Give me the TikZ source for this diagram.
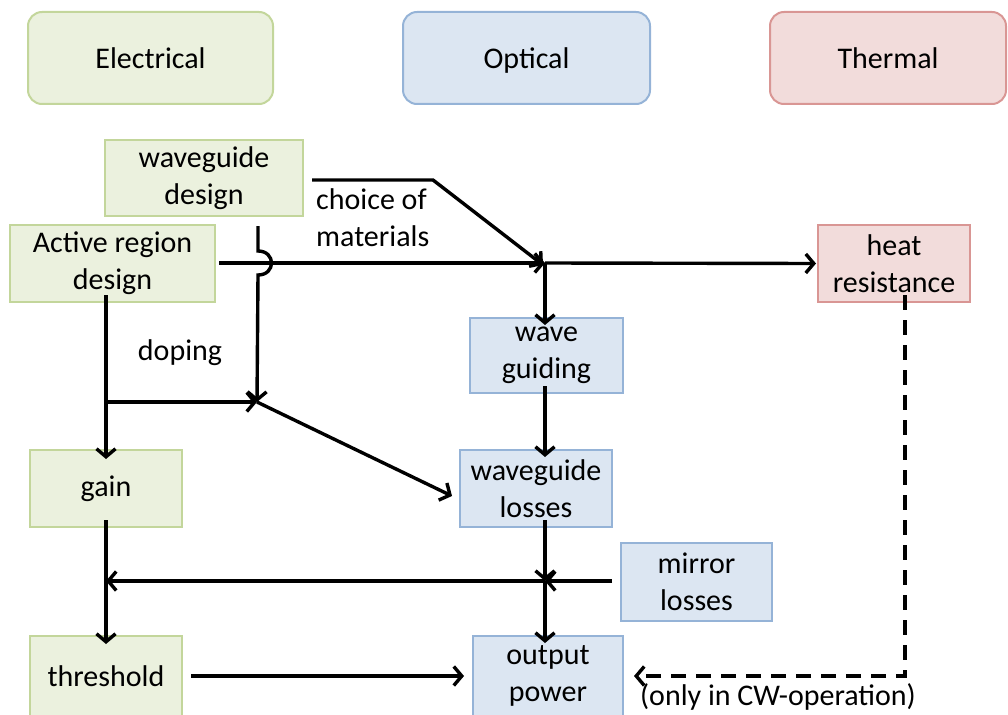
\documentclass[tikz,border=0pt]{standalone}
\usepackage{fontspec}
\setmainfont{Carlito}
\usetikzlibrary{arrows.meta}
\definecolor{gfill}{HTML}{EBF1DE}
\definecolor{gdraw}{HTML}{C3D69B}
\definecolor{bfill}{HTML}{DCE6F2}
\definecolor{bdraw}{HTML}{95B3D7}
\definecolor{rfill}{HTML}{F2DCDB}
\definecolor{rdraw}{HTML}{D99694}
\tikzset{
  box/.style={draw, line width=2pt, inner sep=0pt, align=center, font=\fontsize{30}{37}\selectfont},
  gbox/.style={box, fill=gfill, draw=gdraw},
  bbox/.style={box, fill=bfill, draw=bdraw},
  rbox/.style={box, fill=rfill, draw=rdraw},
  hdr/.style={rounded corners=14pt, text depth=0pt},
  arr/.style={line width=3.4pt, -{Straight Barb[length=8pt,width=19pt,line width=3.4pt]}},
  lbl/.style={font=\fontsize{30}{37}\selectfont, inner sep=0pt}
}
\begin{document}
\begin{tikzpicture}[x=1pt,y=-1pt]
\useasboundingbox (0,0) rectangle (1008,714);
% header boxes
\node[gbox,hdr,minimum width=245pt,minimum height=92pt] (el) at (150.5,58) {Electrical};
\node[bbox,hdr,minimum width=247pt,minimum height=92pt] (op0) at (526.5,58) {Optical};
\node[rbox,hdr,minimum width=236pt,minimum height=92pt] (th) at (888,58) {Thermal};
% diagram boxes
\node[gbox,minimum width=198pt,minimum height=76pt] (wd) at (204,178) {waveguide\\design};
\node[gbox,minimum width=205pt,minimum height=77pt] (ard) at (112.5,263.5) {Active region\\design};
\node[rbox,minimum width=152pt,minimum height=77pt] (hr) at (894,263.5) {heat\\resistance};
\node[bbox,minimum width=153pt,minimum height=75pt] (wg) at (546.5,355.5) {wave\\guiding};
\node[bbox,minimum width=152pt,minimum height=77pt] (wl) at (536,488.5) {waveguide\\losses};
\node[gbox,minimum width=152pt,minimum height=77pt] (gain) at (106,488.5) {gain};
\node[bbox,minimum width=151pt,minimum height=78pt] (ml) at (696.5,582) {mirror\\losses};
\node[bbox,minimum width=150pt,minimum height=80pt] (op) at (548,676) {output\\power};
\node[gbox,minimum width=152pt,minimum height=80pt] (thr) at (106,676) {threshold};
% labels
\node[lbl,anchor=north west,align=left] (cm) at (316,188) {choice of\\materials};
\node[lbl] (dp) at (180,353) {doping};
\node[lbl] (cw) at (778,696.5) {(only in CW-operation)};
% coordinates
\coordinate (j1) at (545,263);
\coordinate (j2) at (545,581);
\coordinate (j3) at (106,581);
\coordinate (d1) at (257,402);
\coordinate (b1) at (106,402);
\coordinate (h1) at (258,226);
\coordinate (k1) at (433,180);
\coordinate (dl) at (905,676);
% connectors
\draw[arr] ([xshift=8pt]wd.east |- k1) -- (k1) -- ([shift={(-2pt,-2pt)}]j1);
\draw[arr] ([xshift=3pt]ard.east |- j1) -- (j1);
\draw[arr] (j1) -- ([xshift=-1pt]hr.west);
\draw[arr] (j1) -- ([yshift=-8pt]j1 |- wg.north);
\draw[arr] ([yshift=8pt]j1 |- wg.south) -- ([yshift=-8pt]j1 |- wl.north);
\draw[arr] (h1) -- (258,251) .. controls (276,251) and (276,275) .. (258,275) -- (d1);
\draw[arr] ([yshift=8pt]b1 |- ard.south) -- ([yshift=-10pt]gain.north);
\draw[arr] (b1) -- (d1);
\draw[arr] (d1) -- (452,496);
\draw[arr] ([yshift=8pt]gain.south) -- ([yshift=-9pt]thr.north);
\draw[arr] ([xshift=-8pt]ml.west |- j2) -- (j2);
\draw[arr] (j2) -- (j3);
\draw[arr] ([yshift=8pt]j2 |- wl.south) -- (j2);
\draw[arr] (j2) -- ([yshift=-8pt]j2 |- op.north);
\draw[arr] ([xshift=8pt]thr.east |- dl) -- ([xshift=-8pt]op.west |- dl);
\draw[arr, dash pattern=on 15pt off 10pt] ([yshift=8pt]dl |- hr.south) -- (dl) -- ([xshift=10pt]op.east |- dl);
\end{tikzpicture}
\end{document}
